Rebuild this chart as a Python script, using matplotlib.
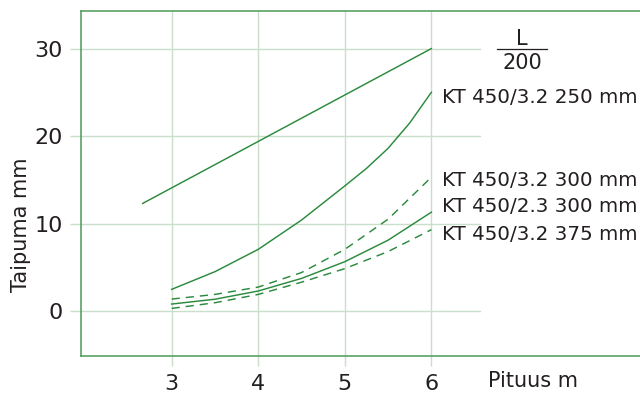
import matplotlib.pyplot as plt

plt.rcParams["font.family"] = "DejaVu Sans"
plt.rcParams.update({'font.size': 15})

# data
pituus = [3, 3.5, 4, 4.5, 5, 5.5, 6]                      # span (m)
pituus_250 = [3, 3.5, 4, 4.5, 5, 5.25, 5.5, 5.75, 6]
kt32_250 = [2.48, 4.5, 7.05, 10.4, 14.3, 16.3, 18.6, 21.5, 25.0]  # solid, top
kt32_300 = [1.37, 1.9, 2.74, 4.4, 7.05, 10.5, 15.3]       # dashed, upper
kt23_300 = [0.8, 1.35, 2.29, 3.73, 5.64, 8.1, 11.3]       # solid, lower
kt32_375 = [0.3, 0.95, 1.9, 3.3, 4.85, 6.8, 9.3]          # dashed, lower
raja_x = [2.665, 6]                                       # L/200 limit line
raja_y = [12.3, 30]

labels = ['KT 450/3.2 250 mm', 'KT 450/3.2 300 mm',
          'KT 450/2.3 300 mm', 'KT 450/3.2 375 mm']
label_y = [23.8, 14.3, 11.35, 8.1]
xticks = [3, 4, 5, 6]
yticks = [0, 10, 20, 30]

green = '#2b8a3e'
spine_c = '#4a9a58'
grid_c = '#c9dfc9'
text_c = '#231f20'

fig = plt.figure(figsize=(6.4, 3.94), dpi=100)
ax = fig.add_axes([0.1266, 0.0964, 0.8734, 0.8756])
ax.set_xlim(1.953, 8.41)
ax.set_ylim(-5.14, 34.29)

# grid (horizontal lines stop short of the labels)
for y in yticks:
    ax.plot([1.953, 6.56], [y, y], color=grid_c, lw=1.0, zorder=1)
for x in xticks:
    ax.axvline(x, color=grid_c, lw=1.0, zorder=1)

lw = 1.05
dash = (5.6, 4.1)
ax.plot(raja_x, raja_y, color=green, lw=lw, zorder=3)
ax.plot(pituus_250, kt32_250, color=green, lw=lw, zorder=3)
ax.plot(pituus, kt23_300, color=green, lw=lw, zorder=3)
ax.plot(pituus, kt32_300, color=green, lw=lw, dashes=dash, zorder=3)
ax.plot(pituus, kt32_375, color=green, lw=lw, dashes=dash, zorder=3)

for lab, y in zip(labels, label_y):
    ax.text(6.12, y, lab, color=text_c, ha='left', va='baseline',
            fontsize=14.3, clip_on=False)

# L/200 fraction
ax.text(7.05, 30.4, 'L', color=text_c, ha='center', va='baseline')
ax.text(7.05, 27.66, '200', color=text_c, ha='center', va='baseline')
ax.plot([6.756, 7.334], [29.9, 29.9], color=text_c, lw=0.9)

ax.set_xticks(xticks)
ax.set_yticks(yticks)
ax.tick_params(axis='x', length=7, width=1.0, color=grid_c, pad=6,
               labelcolor=text_c, labelsize=16)
ax.tick_params(axis='y', length=8, width=1.0, color=grid_c, pad=5,
               labelcolor=text_c, labelsize=16)

ax.spines['right'].set_visible(False)
for s in ['left', 'top', 'bottom']:
    ax.spines[s].set_color(spine_c)
    ax.spines[s].set_linewidth(1.1)

fig.text(0.7625, 0.0178, 'Pituus m', color=text_c, ha='left', va='baseline')
fig.text(0.033, 0.429, 'Taipuma mm', color=text_c, rotation=90,
         ha='center', va='center')

fig.savefig('out.png', dpi=100)
